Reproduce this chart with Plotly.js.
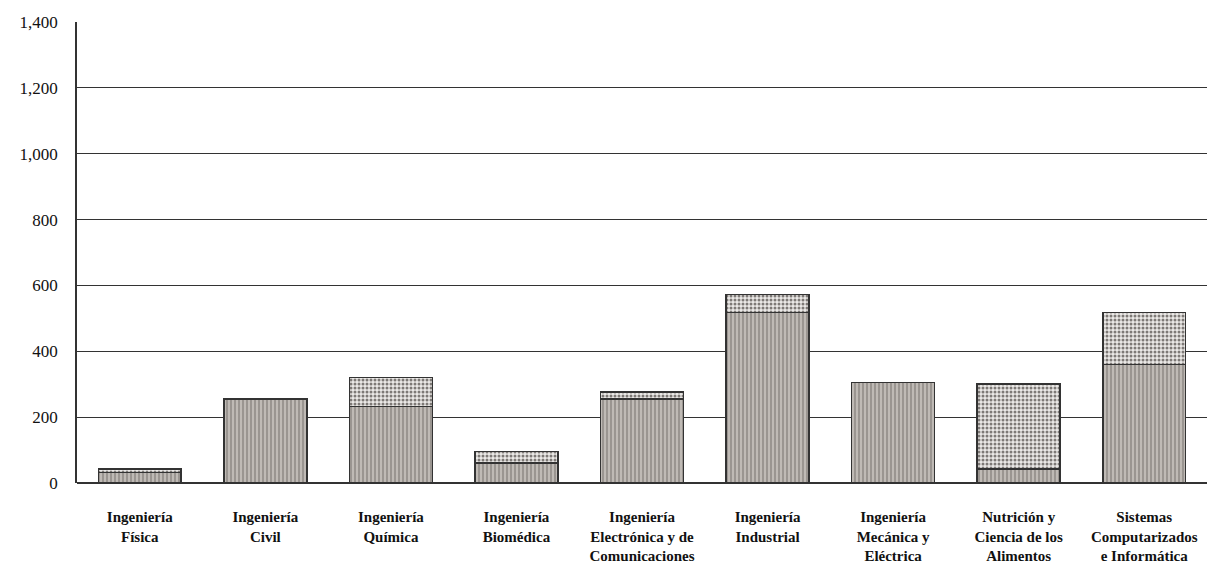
<!DOCTYPE html>
<html>
<head>
<meta charset="utf-8">
<script src="https://cdn.plot.ly/plotly-3.0.1.min.js"></script>
<style>
  body { margin: 0; background: #ffffff; }
  #chart { width: 1207px; height: 578px; }
</style>
</head>
<body>
<div id="chart"></div>
<script>
const carreras = [
    'Ingeniería<br>Física',
    'Ingeniería<br>Civil',
    'Ingeniería<br>Química',
    'Ingeniería<br>Biomédica',
    'Ingeniería<br>Electrónica y de<br>Comunicaciones',
    'Ingeniería<br>Industrial',
    'Ingeniería<br>Mecánica y<br>Eléctrica',
    'Nutrición y<br>Ciencia de los<br>Alimentos',
    'Sistemas<br>Computarizados<br>e Informática'
];
const serieInferior = [32, 255, 232, 60, 255, 518, 305, 43, 360];
const serieSuperior = [10, 0, 89, 36, 22, 55, 0, 257, 158];
const yTicks = [0, 200, 400, 600, 800, 1000, 1200, 1400];

const serif = 'Liberation Serif, DejaVu Serif, serif';

const traceInferior = {
    type: 'bar',
    x: carreras,
    y: serieInferior,
    marker: {
        color: '#b8b3ae',
        pattern: {shape: '|', fgcolor: '#8a8581', bgcolor: '#bfbab5', size: 4, solidity: 0.35},
        line: {color: '#333333', width: 1.5}
    },
    hoverinfo: 'x+y'
};

const traceSuperior = {
    type: 'bar',
    x: carreras,
    y: serieSuperior,
    marker: {
        color: '#e2dfdc',
        pattern: {shape: '.', fgcolor: '#7d7976', bgcolor: '#ebe9e7', size: 4, solidity: 0.45},
        line: {color: '#333333', width: 1.5}
    },
    hoverinfo: 'x+y'
};

const layout = {
    barmode: 'stack',
    bargap: 0.34,
    showlegend: false,
    width: 1207,
    height: 578,
    margin: {l: 77, r: 0, t: 22, b: 95},
    paper_bgcolor: '#ffffff',
    plot_bgcolor: '#ffffff',
    font: {family: serif, color: '#1a1a1a'},
    xaxis: {
        type: 'category',
        range: [-0.5, 8.5],
        showgrid: false,
        showline: false,
        ticks: '',
        ticklabelstandoff: 23,
        tickfont: {family: serif, size: 15, weight: 'bold', color: '#111'}
    },
    yaxis: {
        range: [0, 1400],
        tickvals: yTicks,
        tickformat: ',',
        showgrid: true,
        gridcolor: '#333333',
        gridwidth: 1.2,
        zeroline: true,
        zerolinecolor: '#333333',
        zerolinewidth: 1.5,
        showline: true,
        linecolor: '#333333',
        linewidth: 1.5,
        ticks: '',
        ticklabelstandoff: 14,
        tickfont: {family: serif, size: 17, color: '#111'}
    }
};

Plotly.newPlot('chart', [traceInferior, traceSuperior], layout, {displayModeBar: false});
</script>
</body>
</html>
